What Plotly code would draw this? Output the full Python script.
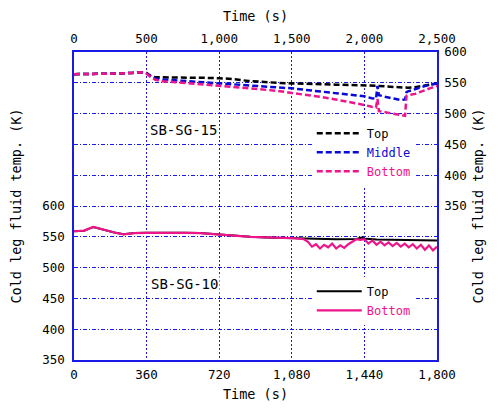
import plotly.graph_objects as go

# ---------------- SB-SG-15 (top time axis 0-2500 s, right temperature axis) ----------------
t15 = [0, 100, 200, 300, 400, 460, 500, 530, 560, 600, 700, 800, 900, 1000, 1100, 1200,
       1300, 1400, 1500, 1600, 1700, 1800, 1900, 2000, 2050, 2080, 2090, 2100, 2150, 2200,
       2250, 2280, 2290, 2300, 2350, 2400, 2450, 2500]
top15 = [564, 564, 564.5, 565, 566, 567, 566, 561, 559, 559, 558.5, 558, 558, 557.5, 556, 553,
         551, 550, 549, 548, 547, 547, 546.5, 546, 546, 545.5, 545.5, 545, 544, 543,
         542, 541.5, 541.5, 542, 543, 545, 548, 549]
mid15 = [564, 564, 564.5, 565, 566, 567, 565, 560, 557, 555.5, 554, 552, 550.5, 549, 547.5, 545.5,
         544, 542.5, 541, 538.5, 535.5, 533, 530.5, 528, 525, 524, 545, 530, 527, 524,
         522, 523, 535, 536, 540, 544, 547, 549]
bot15 = [564, 564, 564.5, 565, 566, 567, 565, 559, 555, 552.5, 551, 549, 547.5, 546, 544, 541.5,
         539.5, 537, 533.5, 530.5, 527, 523, 519, 514, 511, 510, 524, 504, 502, 500,
         498, 496.5, 529, 530, 532, 537, 541, 545]

# ---------------- SB-SG-10 (bottom time axis 0-1800 s, left temperature axis) ----------------
t10_top = [0, 50, 96, 150, 200, 245, 300, 360, 450, 550, 625, 700, 790, 875, 950, 1080, 1150,
           1200, 1300, 1400, 1430, 1440, 1450, 1500, 1600, 1700, 1800]
top10 = [559, 560, 566, 561, 557, 554, 556, 556.5, 557, 556.5, 556, 554, 552, 550, 549, 548, 547,
         546.5, 546, 546.5, 549, 546, 547, 545.5, 545, 545, 544]
t10_bot = [0, 50, 96, 150, 200, 245, 300, 360, 450, 550, 625, 700, 790, 875, 950, 1080, 1140,
           1160, 1180, 1200, 1220, 1240, 1260, 1280, 1300, 1320, 1340, 1360, 1380, 1400, 1420,
           1440, 1460, 1480, 1500, 1520, 1540, 1560, 1580, 1600, 1620, 1640, 1660, 1680, 1700,
           1720, 1740, 1760, 1780, 1800]
bot10 = [559, 560, 566, 561, 557, 554, 556, 556.5, 557, 556.5, 556, 554, 552, 550, 549, 548, 546,
         542, 534, 538, 531, 537, 533, 539, 531, 536, 532, 538, 542, 546, 545,
         546, 539, 544, 537, 542, 536, 541, 535, 540, 534, 539, 533, 538, 531,
         537, 529, 536, 528, 534]

x_top_ticks = [0, 500, 1000, 1500, 2000, 2500]
x_bot_ticks = [0, 360, 720, 1080, 1440, 1800]
y_left_vals = [350, 400, 450, 500, 550, 600, 650, 700, 750, 800, 850]
y_left_text = ["350", "400", "450", "500", "550", "600", "", "", "", "", ""]
y_right_ticks = [350, 400, 450, 500, 550, 600]

BLUE = "#1a1ae6"
LINE_BLUE = "#0a0ad8"
PINK = "#ee1489"
FONT = "DejaVu Sans Mono"

fig = go.Figure()
fig.add_trace(go.Scatter(x=t15, y=top15, mode="lines", name="Top",
                         line=dict(color="black", width=2.5, dash="6px,3px"),
                         xaxis="x2", yaxis="y2", legend="legend"))
fig.add_trace(go.Scatter(x=t15, y=mid15, mode="lines",
                         name='<span style="color:%s">Middle</span>' % LINE_BLUE,
                         line=dict(color=LINE_BLUE, width=2.5, dash="6px,3px"),
                         xaxis="x2", yaxis="y2", legend="legend"))
fig.add_trace(go.Scatter(x=t15, y=bot15, mode="lines",
                         name='<span style="color:%s">Bottom</span>' % PINK,
                         line=dict(color=PINK, width=2.5, dash="6px,3px"),
                         xaxis="x2", yaxis="y2", legend="legend"))
fig.add_trace(go.Scatter(x=t10_top, y=top10, mode="lines", name="Top",
                         line=dict(color="black", width=2),
                         xaxis="x", yaxis="y", legend="legend2"))
fig.add_trace(go.Scatter(x=t10_bot, y=bot10, mode="lines",
                         name='<span style="color:%s">Bottom</span>' % PINK,
                         line=dict(color=PINK, width=2.2),
                         xaxis="x", yaxis="y", legend="legend2"))

tickfont = dict(family=FONT, size=12.5, color="black")
titlefont = dict(family=FONT, size=13.5, color="black")

fig.update_layout(
    width=490, height=400,
    margin=dict(l=66, r=61, t=44, b=48, autoexpand=False),
    paper_bgcolor="white", plot_bgcolor="white",
    font=dict(family=FONT, size=12, color="black"),
    xaxis=dict(range=[0, 1800], tickvals=x_bot_ticks, tickformat=",d",
               showgrid=True, gridcolor=BLUE, griddash="2px,2px", gridwidth=1,
               showline=True, linecolor=BLUE, linewidth=1.5, zeroline=False,
               ticks="", tickfont=tickfont, automargin=False, ticklabelstandoff=2,
               title=dict(text="Time (s)", font=titlefont, standoff=9)),
    xaxis2=dict(range=[0, 2500], tickvals=x_top_ticks, tickformat=",d",
                overlaying="x", side="top", anchor="y",
                showgrid=False, showline=True, linecolor=BLUE, linewidth=1.5,
                zeroline=False, ticks="", tickfont=tickfont, automargin=False,
                ticklabelstandoff=2,
                title=dict(text="Time (s)", font=titlefont, standoff=9)),
    yaxis=dict(range=[350, 850], tickvals=y_left_vals, ticktext=y_left_text,
               showgrid=True, gridcolor=BLUE, griddash="4px,2px,1px,2px", gridwidth=1,
               showline=True, linecolor=BLUE, linewidth=1.5, zeroline=False,
               ticks="", tickfont=tickfont, automargin=False, ticklabelstandoff=5,
               title=dict(text="Cold leg fluid temp. (K)", font=titlefont, standoff=18)),
    yaxis2=dict(range=[100, 600], tickvals=y_right_ticks,
                overlaying="y", side="right", anchor="x",
                showgrid=False, showline=True, linecolor=BLUE, linewidth=1.5,
                zeroline=False, ticks="", tickfont=tickfont, automargin=False,
                ticklabelstandoff=3,
                title=dict(text="Cold leg fluid temp. (K)", font=titlefont, standoff=8)),
    legend=dict(x=0.655, y=0.783, xanchor="left", yanchor="top",
                bgcolor="white", borderwidth=0, font=dict(family=FONT, size=12),
                itemwidth=45, tracegroupgap=0),
    legend2=dict(x=0.655, y=0.27, xanchor="left", yanchor="top",
                 bgcolor="white", borderwidth=0, font=dict(family=FONT, size=12),
                 itemwidth=45, tracegroupgap=0),
    annotations=[
        dict(text="SB-SG-15", xref="paper", yref="paper", x=0.204, y=0.747,
             xanchor="left", yanchor="middle", showarrow=False,
             font=dict(family=FONT, size=14, color="black"), bgcolor="white"),
        dict(text="SB-SG-10", xref="paper", yref="paper", x=0.207, y=0.247,
             xanchor="left", yanchor="middle", showarrow=False,
             font=dict(family=FONT, size=14, color="black"), bgcolor="white"),
    ],
)

fig.write_html("out.html")
